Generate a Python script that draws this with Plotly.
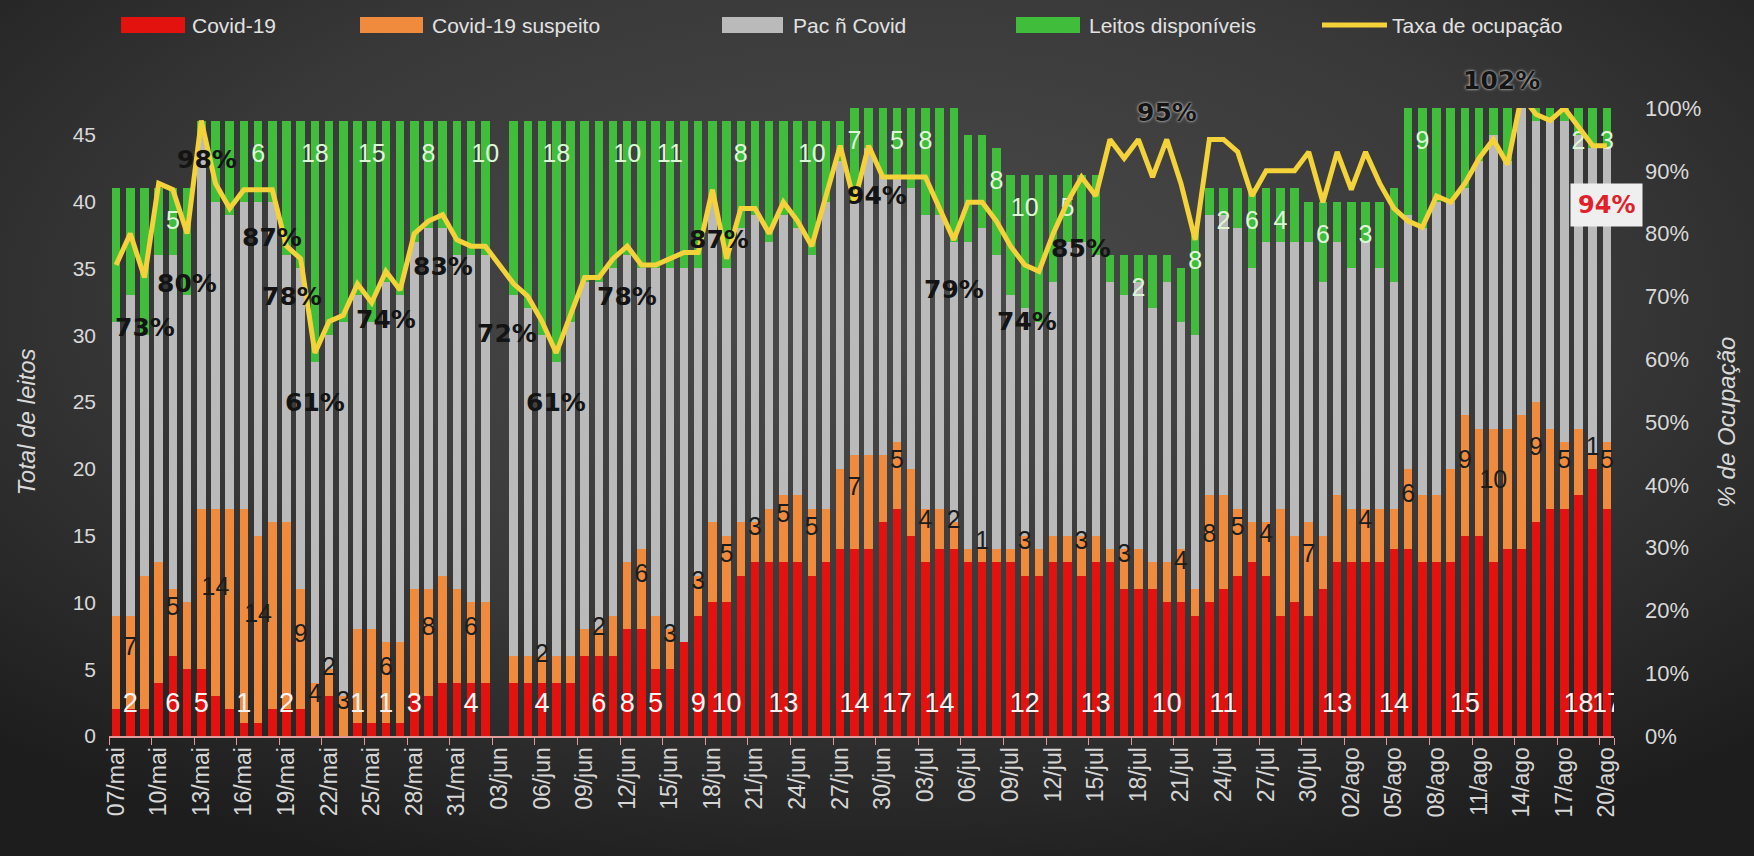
import base64
from datetime import date, timedelta
import plotly.graph_objects as go

# categorias: um dia por barra, 07/mai a 20/ago
meses = {5: "mai", 6: "jun", 7: "jul", 8: "ago"}
inicio = date(2020, 5, 7)
dias = []
for n in range(106):
    d = inicio + timedelta(days=n)
    dias.append(f"{d.day:02d}/{meses[d.month]}")

# leitos por dia (03/jun sem dados)
covid = [2, 2, 2, 4, 6, 5, 5, 3, 2, 1,
         1, 2, 2, 2, 0, 3, 0, 1, 1, 1,
         1, 3, 3, 4, 4, 4, 4, None, 4, 4,
         4, 4, 4, 6, 6, 6, 8, 8, 5, 5,
         7, 9, 10, 10, 12, 13, 13, 13, 13, 12,
         13, 14, 14, 14, 16, 17, 15, 13, 14, 14,
         13, 13, 13, 13, 12, 12, 13, 13, 12, 13,
         13, 11, 11, 11, 10, 10, 9, 10, 11, 12,
         13, 12, 9, 10, 9, 11, 13, 13, 13, 13,
         14, 14, 13, 13, 13, 15, 15, 13, 14, 14,
         16, 17, 17, 18, 20, 17]

suspeito = [7, 7, 10, 9, 5, 5, 12, 14, 15, 16,
            14, 14, 14, 9, 4, 2, 3, 7, 7, 6,
            6, 8, 8, 8, 7, 6, 6, None, 2, 2,
            2, 2, 2, 2, 2, 3, 5, 6, 4, 3,
            0, 3, 6, 5, 4, 3, 4, 5, 5, 5,
            4, 6, 7, 7, 5, 5, 5, 4, 3, 2,
            1, 1, 1, 1, 3, 2, 2, 2, 3, 2,
            1, 3, 3, 2, 3, 4, 2, 8, 7, 5,
            3, 4, 8, 5, 7, 4, 5, 4, 4, 4,
            3, 6, 5, 5, 7, 9, 8, 10, 9, 10,
            9, 6, 5, 5, 1, 5]

nao_covid = [22, 24, 18, 23, 25, 23, 28, 23, 22, 23,
             25, 24, 20, 24, 24, 25, 28, 25, 23, 27,
             26, 26, 27, 26, 25, 26, 26, None, 27, 26,
             24, 22, 25, 26, 26, 26, 23, 21, 26, 27,
             28, 23, 24, 20, 22, 23, 20, 21, 20, 19,
             23, 23, 19, 23, 21, 20, 21, 22, 22, 21,
             23, 24, 22, 19, 17, 17, 19, 22, 22, 21,
             20, 19, 20, 19, 21, 17, 19, 21, 21, 21,
             19, 21, 20, 22, 21, 19, 19, 18, 20, 18,
             17, 19, 20, 22, 20, 17, 20, 22, 20, 23,
             21, 23, 24, 22, 23, 22]

disponiveis = [10, 8, 11, 5, 5, 8, 1, 6, 7, 6,
               6, 6, 10, 11, 18, 16, 15, 13, 15, 12,
               13, 9, 8, 8, 10, 10, 10, None, 13, 14,
               16, 18, 15, 12, 12, 11, 10, 11, 11, 11,
               11, 11, 6, 11, 8, 7, 9, 7, 8, 10,
               6, 3, 7, 3, 5, 5, 6, 8, 8, 10,
               8, 7, 8, 9, 10, 11, 8, 5, 5, 6,
               2, 3, 2, 4, 2, 4, 8, 2, 2, 3,
               6, 4, 4, 4, 3, 6, 3, 5, 3, 5,
               7, 8, 9, 7, 7, 6, 4, 2, 4, 0,
               1, 1, 1, 2, 3, 3]

taxa = [0.75, 0.80, 0.73, 0.88, 0.87, 0.80, 0.98, 0.88, 0.84, 0.87,
        0.87, 0.87, 0.78, 0.76, 0.61, 0.66, 0.67, 0.72, 0.69, 0.74,
        0.71, 0.80, 0.82, 0.83, 0.79, 0.78, 0.78, 0.75, 0.72, 0.70,
        0.66, 0.61, 0.67, 0.73, 0.73, 0.76, 0.78, 0.75, 0.75, 0.76,
        0.77, 0.77, 0.87, 0.76, 0.84, 0.84, 0.80, 0.85, 0.82, 0.78,
        0.86, 0.94, 0.85, 0.94, 0.89, 0.89, 0.89, 0.89, 0.84, 0.79,
        0.85, 0.85, 0.82, 0.78, 0.75, 0.74, 0.80, 0.85, 0.89, 0.86,
        0.95, 0.92, 0.95, 0.89, 0.95, 0.88, 0.79, 0.95, 0.95, 0.93,
        0.86, 0.90, 0.90, 0.90, 0.93, 0.85, 0.93, 0.87, 0.93, 0.88,
        0.84, 0.82, 0.81, 0.86, 0.85, 0.88, 0.92, 0.95, 0.91, 1.02,
        0.99, 0.98, 1.00, 0.97, 0.94, 0.94]

# dias que levam rotulo em cada serie
rot_covid = [1, 4, 6, 9, 12, 17, 19, 21, 25, 30, 34, 36, 38, 41, 43, 47, 52, 55,
             58, 64, 69, 74, 78, 86, 90, 95, 103, 105]
rot_suspeito = [1, 4, 7, 10, 13, 14, 15, 16, 19, 22, 25, 30, 34, 37, 39, 41, 43, 45,
                47, 49, 52, 55, 57, 59, 61, 64, 68, 71, 75, 77, 79, 81, 84, 88, 91,
                95, 97, 100, 102, 104, 105]
rot_disp = [4, 10, 14, 18, 22, 26, 31, 36, 39, 44, 49, 52, 55, 57, 62, 64, 67, 72,
            76, 78, 80, 82, 85, 88, 92, 103, 105]
# (dia, deslocamento x, deslocamento y) dos rotulos da taxa
rot_taxa = [(2, 0, -50), (5, 0, -50), (6, 6, -39), (11, 0, -48), (12, 6, -50),
            (14, 0, -50), (19, 0, -48), (23, 0, -52), (28, -7, -50), (31, 0, -50),
            (36, 0, -50), (42, 7, -50), (53, 8, -50), (59, 0, -50), (65, -12, -50),
            (67, 14, -46), (74, 0, 27), (99, -20, 28)]

VERM, LAR, CINZA, VERDE, AMAR = "#e3120f", "#f08b3e", "#bababa", "#3fbd3b", "#f3d23a"
FONTE = "Liberation Sans"

fig = go.Figure()
for nome, vals, cor in [("Covid-19", covid, VERM), ("Covid-19 suspeito", suspeito, LAR),
                        ("Pac ñ Covid", nao_covid, CINZA), ("Leitos disponíveis", disponiveis, VERDE)]:
    fig.add_trace(go.Bar(x=dias, y=vals, name=nome, marker=dict(color=cor, line=dict(width=0)),
                         hoverinfo="skip"))

fig.add_trace(go.Scatter(x=dias, y=taxa, name="Taxa de ocupação", yaxis="y2", mode="lines",
                         line=dict(color=AMAR, width=5), hoverinfo="skip"))

# rotulos das barras
fig.add_trace(go.Scatter(x=[dias[i] for i in rot_covid], y=[2.3] * len(rot_covid),
                         text=[str(covid[i]) for i in rot_covid], mode="text",
                         textfont=dict(family=FONTE, size=27, color="#fff2f2"), hoverinfo="skip"))
fig.add_trace(go.Scatter(x=[dias[i] for i in rot_suspeito],
                         y=[covid[i] + suspeito[i] / 2 + 1 for i in rot_suspeito],
                         text=[str(suspeito[i]) for i in rot_suspeito], mode="text",
                         textfont=dict(family=FONTE, size=25, color="#1c1c1c"), hoverinfo="skip"))
fig.add_trace(go.Scatter(x=[dias[i] for i in rot_disp],
                         y=[covid[i] + suspeito[i] + nao_covid[i] + disponiveis[i] - 2.6 for i in rot_disp],
                         text=[str(disponiveis[i]) for i in rot_disp], mode="text",
                         textfont=dict(family=FONTE, size=25, color="#dcf7d6"), hoverinfo="skip"))

anotacoes = []
for dia, dx, dy in rot_taxa:
    sombra = "0px 0px 3px #ffffff" if dy > 0 else "none"
    anotacoes.append(dict(x=dias[dia], y=min(taxa[dia], 1.0), yref="y2", xref="x",
                          text=f"{round(taxa[dia] * 100)}%", showarrow=False,
                          xshift=dx, yshift=dy,
                          font=dict(family="DejaVu Sans", size=25, color="#141414",
                                    weight="bold", shadow=sombra)))
anotacoes.append(dict(x=dias[105], y=taxa[105], yref="y2", xref="x",
                      text=f"{round(taxa[105] * 100)}%", showarrow=False, yshift=-59,
                      bgcolor="#efefef", borderpad=7,
                      font=dict(family="DejaVu Sans", size=24, color="#e0202a", weight="bold")))

# legenda desenhada a mao (amostras largas como no original)
W, H = 1754, 856
ML, MR, MT, MB = 109, 140, 108, 120
PW, PH = W - ML - MR, H - MT - MB


def px(x):
    return (x - ML) / PW


def py(y):
    return (H - MB - y) / PH


formas = []
legenda = [("Covid-19", VERM, 121, 185, 190), ("Covid-19 suspeito", LAR, 360, 423, 430),
           ("Pac ñ Covid", CINZA, 722, 783, 791), ("Leitos disponíveis", VERDE, 1016, 1080, 1087)]
for texto, cor, x0, x1, xt in legenda:
    formas.append(dict(type="rect", xref="paper", yref="paper", x0=px(x0), x1=px(x1),
                       y0=py(33), y1=py(17), fillcolor=cor, line=dict(width=0)))
    anotacoes.append(dict(x=px(xt), y=py(25), xref="paper", yref="paper", text=texto,
                          showarrow=False, xanchor="left", yanchor="middle",
                          font=dict(family=FONTE, size=21, color="#e2e2e2")))
formas.append(dict(type="line", xref="paper", yref="paper", x0=px(1322), x1=px(1387),
                   y0=py(25), y1=py(25), line=dict(color=AMAR, width=5)))
anotacoes.append(dict(x=px(1390), y=py(25), xref="paper", yref="paper", text="Taxa de ocupação",
                      showarrow=False, xanchor="left", yanchor="middle",
                      font=dict(family=FONTE, size=21, color="#e2e2e2")))

# fundo escuro com vinheta
svg = (f"<svg xmlns='http://www.w3.org/2000/svg' width='{W}' height='{H}'>"
       "<defs><radialGradient id='g' cx='0.5' cy='0.35' r='0.72'>"
       "<stop offset='0' stop-color='#4b4b4b'/><stop offset='0.55' stop-color='#393939'/>"
       "<stop offset='1' stop-color='#1d1d1d'/></radialGradient></defs>"
       f"<rect width='{W}' height='{H}' fill='url(#g)'/></svg>")
fundo = "data:image/svg+xml;base64," + base64.b64encode(svg.encode()).decode()

fig.update_layout(
    width=W, height=H,
    barmode="stack", bargap=0.4,
    showlegend=False,
    paper_bgcolor="#2a2a2a", plot_bgcolor="rgba(0,0,0,0)",
    margin=dict(l=ML, r=MR, t=MT, b=MB, autoexpand=False),
    images=[dict(source=fundo, xref="paper", yref="paper", x=-ML / PW, y=1 + MT / PH,
                 sizex=W / PW, sizey=H / PH, sizing="stretch", xanchor="left",
                 yanchor="top", layer="below")],
    shapes=formas,
    annotations=anotacoes,
    xaxis=dict(type="category", range=[-0.5, 105.5], tickmode="array", tickvals=dias[::3],
               tickangle=-90, tickson="boundaries", ticks="outside", ticklen=7,
               tickcolor="#e39a9a", showline=True, linecolor="#e39a9a", linewidth=2,
               showgrid=False, tickfont=dict(family=FONTE, size=23, color="#d6d6d6")),
    yaxis=dict(range=[0, 47], tickvals=list(range(0, 50, 5)), showgrid=False, zeroline=False,
               ticks="", ticklabelstandoff=12,
               tickfont=dict(family=FONTE, size=21, color="#d9d9d9"),
               title=dict(text="Total de leitos", standoff=30,
                          font=dict(family=FONTE, size=24, color="#d9d9d9", style="italic"))),
    yaxis2=dict(overlaying="y", side="right", range=[0, 1], tickformat=".0%", dtick=0.1,
                showgrid=False, zeroline=False, ticks="", ticklabelstandoff=30,
                tickfont=dict(family=FONTE, size=22, color="#d9d9d9"),
                title=dict(text="% de Ocupação", standoff=17,
                           font=dict(family=FONTE, size=24, color="#d9d9d9", style="italic"))),
)

fig.write_html("out.html", config={"displayModeBar": False},
               post_script="document.body.style.margin='0';document.body.style.background='#1d1d1d';")
